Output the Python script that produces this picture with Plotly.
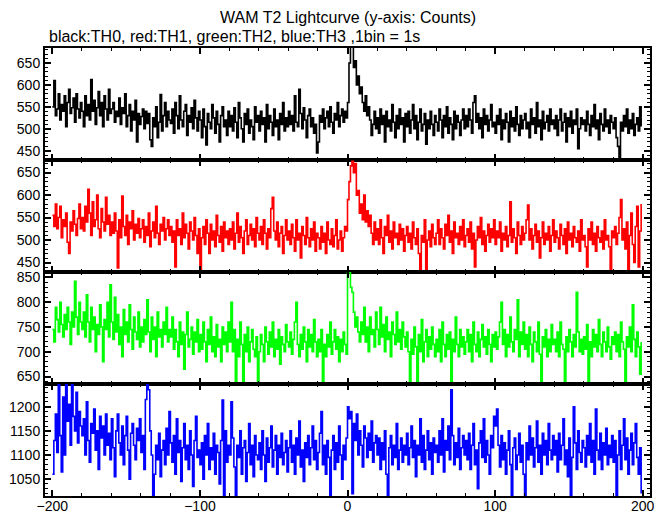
import plotly.graph_objects as go
from plotly.subplots import make_subplots

# time bins (1 bin = 1 s)
time_s = list(range(-200, 200))

th0_counts = [
    550, 610, 530, 545, 580, 520, 555, 540, 575, 505, 560, 590, 535, 548, 570, 515, 580, 545, 525, 560,
    540, 505, 575, 530, 555, 520, 612, 540, 565, 510, 548, 585, 530, 560, 505, 575, 545, 520, 590, 535,
    545, 560, 515, 540, 528, 570, 510, 548, 535, 580, 505, 530, 555, 495, 540, 520, 565, 470, 535, 510,
    528, 545, 500, 540, 512, 535, 475, 460, 525, 505, 550, 480, 515, 578, 495, 530, 560, 505, 540, 520,
    512, 545, 490, 560, 530, 500, 575, 520, 505, 540, 555, 485, 530, 515, 548, 500, 565, 525, 495, 540,
    520, 480, 545, 505, 463, 535, 515, 500, 555, 525, 490, 540, 510, 470, 530, 550, 505, 520, 485, 540,
    505, 530, 495, 548, 515, 480, 560, 525, 500, 470, 535, 510, 545, 490, 520, 505, 475, 550, 515, 530,
    495, 540, 510, 525, 470, 555, 500, 530, 515, 485, 545, 505, 520, 475, 535, 510, 560, 495, 525, 505,
    540, 510, 530, 495, 575, 515, 505, 590, 535, 500, 548, 520, 480, 530, 545, 505, 525, 490, 510, 445,
    470, 530, 515, 545, 500, 525, 540, 505, 550, 515, 490, 535, 520, 560, 505, 530, 545, 515, 540, 525,
    560, 650, 700, 690, 640, 655, 600, 620, 580, 595, 560, 540, 575, 530, 550, 520, 485, 510, 540, 500,
    525, 490, 545, 510, 530, 470, 540, 505, 520, 495, 555, 515, 480, 530, 500, 545, 510, 525, 470, 535,
    505, 540, 490, 520, 555, 500, 530, 475, 515, 545, 495, 510, 535, 465, 520, 500, 540, 510, 485, 530,
    515, 495, 545, 520, 480, 530, 505, 550, 490, 525, 510, 475, 540, 500, 530, 515, 485, 520, 545, 500,
    530, 505, 545, 520, 490, 560, 575, 515, 535, 500, 525, 480, 545, 510, 530, 495, 520, 555, 505, 515,
    490, 530, 510, 545, 475, 520, 500, 535, 515, 470, 540, 505, 525, 495, 550, 510, 485, 530, 500, 520,
    535, 500, 515, 480, 545, 510, 525, 490, 560, 505, 520, 475, 540, 500, 515, 530, 495, 545, 510, 520,
    500, 530, 485, 520, 545, 495, 515, 535, 470, 525, 505, 540, 490, 520, 510, 545, 455, 500, 525, 510,
    520, 495, 540, 510, 485, 530, 505, 555, 500, 520, 475, 535, 510, 495, 545, 505, 520, 490, 530, 515,
    500, 525, 480, 460, 430, 515, 495, 530, 505, 545, 490, 520, 500, 535, 485, 510, 525, 495, 550, 505,
]

th1_counts = [
    555, 530, 580, 525, 550, 575, 505, 545, 530, 560, 495, 470, 540, 520, 565, 535, 510, 548, 580, 525,
    550, 520, 575, 540, 613, 560, 510, 585, 530, 545, 600, 525, 505, 570, 540, 520, 595, 535, 555, 510,
    540, 515, 560, 520, 438, 545, 505, 598, 530, 510, 555, 490, 540, 525, 565, 500, 535, 515, 548, 505,
    525, 545, 495, 530, 510, 560, 485, 520, 540, 505, 575, 515, 490, 535, 520, 550, 500, 525, 545, 510,
    530, 495, 520, 440, 545, 510, 525, 490, 560, 505, 535, 515, 480, 540, 520, 500, 550, 510, 470, 525,
    430, 505, 530, 490, 545, 515, 470, 535, 500, 520, 485, 555, 510, 495, 530, 475, 540, 505, 520, 490,
    525, 500, 540, 480, 515, 560, 495, 530, 505, 470, 520, 545, 490, 510, 535, 500, 525, 485, 550, 515,
    500, 530, 490, 545, 515, 480, 525, 505, 570, 595, 520, 500, 540, 485, 515, 530, 470, 510, 545, 500,
    520, 490, 535, 505, 475, 545, 500, 515, 460, 530, 510, 490, 550, 505, 485, 525, 500, 540, 475, 515,
    505, 480, 530, 495, 515, 470, 540, 500, 490, 525, 485, 510, 545, 480, 500, 520, 475, 505, 530, 520,
    590, 630, 665, 675, 650, 670, 600, 610, 560, 580, 545, 600, 540, 565, 530, 555, 515, 490, 540, 500,
    525, 490, 545, 505, 470, 530, 510, 555, 495, 520, 480, 540, 505, 515, 490, 535, 500, 525, 475, 510,
    530, 495, 515, 480, 540, 505, 490, 525, 470, 435, 510, 495, 545, 430, 500, 520, 485, 535, 505, 490,
    515, 545, 490, 525, 505, 480, 535, 510, 555, 495, 520, 470, 540, 505, 515, 490, 530, 500, 545, 485,
    510, 525, 495, 540, 480, 515, 440, 500, 530, 505, 550, 490, 520, 475, 510, 535, 495, 525, 505, 545,
    490, 520, 505, 540, 475, 515, 500, 530, 485, 510, 585, 495, 525, 505, 470, 540, 510, 490, 530, 500,
    515, 545, 578, 500, 525, 480, 510, 535, 495, 520, 460, 505, 540, 490, 515, 500, 530, 475, 510, 545,
    495, 520, 505, 480, 535, 510, 490, 525, 470, 540, 500, 515, 485, 530, 505, 495, 520, 475, 545, 500,
    510, 485, 440, 525, 500, 540, 490, 515, 475, 530, 505, 495, 520, 480, 545, 500, 510, 485, 435, 520,
    505, 530, 490, 515, 550, 590, 500, 525, 480, 540, 435, 510, 560, 490, 450, 530, 575, 440, 520, 580,
]

th2_counts = [
    745, 720, 790, 765, 740, 800, 755, 730, 775, 745, 790, 760, 715, 780, 750, 842, 770, 735, 800, 760,
    745, 780, 730, 815, 760, 720, 790, 745, 770, 700, 755, 735, 795, 750, 680, 765, 745, 800, 730, 835,
    760, 725, 810, 740, 775, 715, 750, 690, 785, 735, 760, 720, 795, 745, 705, 770, 740, 725, 780, 710,
    750, 720, 765, 735, 805, 740, 700, 770, 725, 750, 690, 780, 730, 745, 710, 760, 735, 790, 720, 745,
    730, 770, 705, 745, 720, 690, 760, 715, 740, 665, 735, 780, 710, 725, 750, 695, 740, 720, 765, 700,
    735, 705, 760, 720, 680, 745, 715, 770, 700, 730, 690, 755, 710, 725, 680, 750, 715, 740, 700, 760,
    720, 800, 700, 745, 635, 725, 690, 760, 715, 640, 735, 700, 750, 680, 720, 745, 705, 690, 730, 640,
    700, 735, 715, 680, 750, 720, 695, 740, 710, 760, 690, 725, 705, 745, 675, 730, 715, 700, 755, 720,
    710, 740, 695, 725, 760, 800, 715, 690, 735, 705, 750, 720, 680, 745, 710, 735, 700, 765, 720, 690,
    725, 700, 745, 640, 715, 690, 735, 710, 760, 695, 720, 745, 705, 730, 680, 725, 700, 740, 715, 695,
    870, 860, 830, 820, 780, 750, 770, 740, 720, 760, 735, 790, 720, 750, 700, 770, 735, 745, 710, 780,
    745, 715, 790, 730, 755, 700, 770, 725, 740, 690, 760, 735, 715, 780, 720, 745, 705, 760, 730, 710,
    740, 700, 635, 725, 695, 750, 710, 640, 735, 700, 765, 680, 720, 745, 690, 730, 705, 750, 715, 690,
    725, 700, 745, 680, 760, 715, 690, 735, 705, 740, 635, 725, 700, 770, 715, 690, 745, 710, 730, 695,
    720, 745, 700, 735, 680, 760, 715, 700, 740, 690, 725, 755, 710, 730, 695, 745, 715, 680, 735, 710,
    740, 705, 730, 760, 800, 715, 745, 690, 735, 710, 770, 720, 700, 745, 725, 805, 690, 740, 715, 760,
    705, 735, 690, 750, 715, 680, 740, 720, 700, 760, 695, 635, 730, 710, 745, 690, 725, 700, 755, 715,
    725, 700, 740, 690, 760, 715, 705, 635, 730, 700, 745, 720, 690, 735, 710, 820, 740, 700, 725, 695,
    730, 705, 755, 635, 720, 690, 745, 710, 735, 700, 765, 715, 690, 740, 720, 700, 750, 710, 685, 730,
    715, 740, 700, 735, 690, 760, 720, 705, 640, 730, 710, 750, 700, 795, 725, 690, 740, 710, 655, 720,
]

th3_counts = [
    1060, 1130, 1185, 1105, 1250, 1140, 1065, 1220, 1100, 1250, 1170, 1205, 1120, 1250, 1180, 1150, 1230, 1125, 1190, 1160,
    1140, 1175, 1100, 1210, 1130, 1085, 1165, 1145, 1195, 1110, 1150, 1070, 1180, 1135, 1160, 1100, 1185, 1120, 1145, 1090,
    1175, 1115, 1055, 1150, 1185, 1125, 1100, 1160, 1080, 1140, 1180, 1110, 1050, 1145, 1165, 1120, 1090, 1155, 1130, 1175,
    1105, 1140, 1070, 1215, 1250, 1235, 1150, 1100, 1010, 1060, 1120, 1090, 1145, 1055, 1110, 1130, 1080, 1155, 1100, 1190,
    1125, 1085, 1140, 1060, 1175, 1105, 1130, 1045, 1115, 1165, 1090, 1120, 1070, 1150, 1100, 1035, 1130, 1180, 1095, 1110,
    1080, 1125, 1050, 1140, 1100, 1165, 1070, 1115, 1090, 1145, 1060, 1120, 1105, 1040, 1130, 1214, 1010, 1150, 1085, 1120,
    1100, 1210, 1135, 1075, 1010, 1120, 1095, 1150, 1060, 1115, 1130, 1045, 1105, 1165, 1080, 1120, 1055, 1140, 1100, 1090,
    1125, 1070, 1150, 1100, 1045, 1135, 1085, 1115, 1160, 1075, 1110, 1140, 1060, 1120, 1095, 1145, 1080, 1105, 1130, 1065,
    1115, 1150, 1085, 1120, 1060, 1135, 1100, 1170, 1075, 1110, 1045, 1125, 1095, 1140, 1080, 1115, 1160, 1090, 1130, 1070,
    1105, 1145, 1190, 1080, 1120, 1060, 1130, 1095, 1015, 1110, 1140, 1070, 1125, 1085, 1160, 1100, 1050, 1120, 1090, 1135,
    1200, 1175, 1190, 1020, 1165, 1130, 1185, 1100, 1150, 1120, 1075, 1160, 1135, 1095, 1145, 1110, 1170, 1085, 1125, 1140,
    1100, 1135, 1070, 1125, 1090, 1150, 1060, 1010, 1115, 1140, 1080, 1120, 1095, 1165, 1070, 1110, 1135, 1085, 1120, 1100,
    1145, 1080, 1115, 1160, 1095, 1130, 1055, 1120, 1100, 1175, 1085, 1140, 1070, 1110, 1150, 1090, 1125, 1060, 1135, 1105,
    1120, 1085, 1150, 1100, 1175, 1065, 1130, 1110, 1160, 1090, 1235, 1140, 1080, 1125, 1095, 1155, 1070, 1115, 1140, 1100,
    1130, 1090, 1145, 1070, 1120, 1165, 1080, 1110, 1030, 1125, 1150, 1095, 1175, 1085, 1130, 1100, 1060, 1140, 1115, 1180,
    1160, 1195, 1120, 1075, 1140, 1090, 1125, 1060, 1110, 1150, 1080, 1010, 1115, 1135, 1070, 1100, 1145, 1085, 1120, 1060,
    1010, 1125, 1090, 1160, 1100, 1135, 1075, 1115, 1170, 1085, 1120, 1060, 1145, 1100, 1130, 1080, 1165, 1110, 1090, 1140,
    1100, 1130, 1065, 1145, 1090, 1120, 1175, 1080, 1110, 1055, 1135, 1015, 1095, 1200, 1125, 1070, 1150, 1105, 1085, 1130,
    1115, 1075, 1140, 1100, 1165, 1085, 1130, 1060, 1195, 1110, 1090, 1145, 1070, 1125, 1100, 1155, 1080, 1120, 1095, 1140,
    1085, 1130, 1010, 1100, 1150, 1070, 1120, 1175, 1090, 1135, 1060, 1110, 1145, 1080, 1125, 1165, 1095, 1060, 1115, 1020,
]

series = [th0_counts, th1_counts, th2_counts, th3_counts]
colors = ["#000000", "#ff0000", "#00ff00", "#0000ff"]
y_ranges = [[429, 684], [429, 678], [635, 861], [1015, 1247]]

fig = make_subplots(rows=4, cols=1, shared_xaxes=True, vertical_spacing=0)

for i, (vals, col) in enumerate(zip(series, colors)):
    fig.add_trace(
        go.Scatter(x=time_s, y=vals, mode="lines", line=dict(color=col, width=1.6, shape="hv"),
                   hoverinfo="skip", showlegend=False),
        row=i + 1, col=1,
    )

font_family = "Liberation Sans, Arial, Helvetica, sans-serif"

for i in range(4):
    fig.update_xaxes(
        range=[-205, 205], dtick=100, tick0=0, ticks="inside", ticklen=6, tickwidth=2,
        tickcolor="black", showline=True, linewidth=2, linecolor="black", mirror="ticks",
        showgrid=False, zeroline=False, automargin=False, ticklabelstandoff=-4,
        minor=dict(dtick=20, tick0=0, ticks="inside", ticklen=3, tickwidth=1, tickcolor="black", showgrid=False),
        tickfont=dict(family=font_family, size=14, color="black"),
        row=i + 1, col=1,
    )
    fig.update_yaxes(
        range=y_ranges[i], dtick=50, tick0=0, ticks="inside", ticklen=6, tickwidth=2,
        tickcolor="black", showline=True, linewidth=2, linecolor="black", mirror="ticks",
        showgrid=False, zeroline=False, automargin=False,
        minor=dict(dtick=10, tick0=0, ticks="inside", ticklen=3, tickwidth=1, tickcolor="black", showgrid=False),
        tickfont=dict(family=font_family, size=14, color="black"),
        row=i + 1, col=1,
    )

# plot area: 605 x 448 px
fig.add_annotation(text="WAM T2 Lightcurve (y-axis: Counts)", xref="paper", yref="paper",
                   x=0.5, y=1 + 30 / 448, xanchor="center", yanchor="middle", showarrow=False,
                   font=dict(family=font_family, size=16, color="black"))
fig.add_annotation(text="black:TH0, red:TH1, green:TH2, blue:TH3 ,1bin = 1s", xref="paper", yref="paper",
                   x=2 / 605, y=1 + 12 / 448, xanchor="left", yanchor="middle", showarrow=False,
                   font=dict(family=font_family, size=16, color="black"))

# the page body adds an 8 px offset; size the figure so the plot area lands at x 45-650, y 48-496
fig.update_layout(
    width=661, height=507,
    margin=dict(l=37, r=19, t=40, b=19, autoexpand=False),
    paper_bgcolor="white", plot_bgcolor="white",
    hovermode=False,
)

fig.write_html("out.html")
